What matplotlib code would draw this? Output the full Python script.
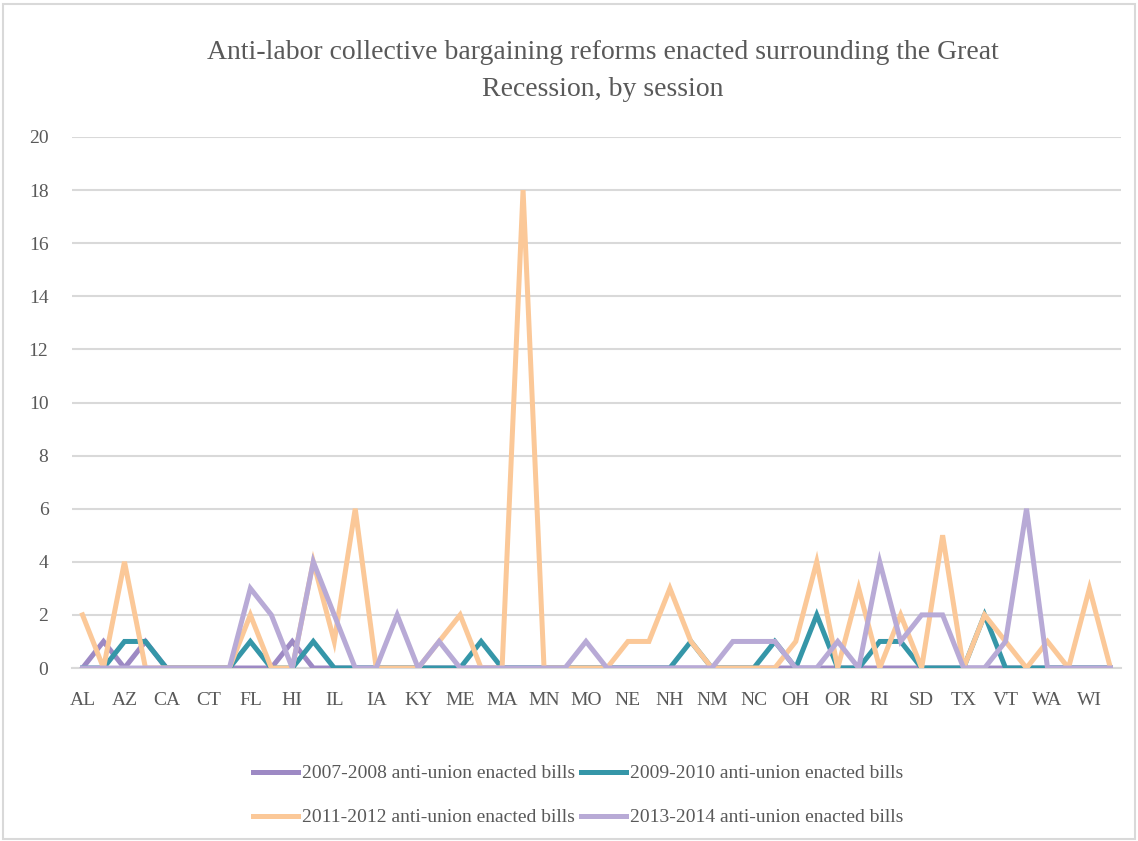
import numpy as np
import matplotlib.pyplot as plt
from matplotlib.patches import Rectangle

plt.rcParams['font.family'] = ['Liberation Serif', 'DejaVu Serif']

states = ['AL', 'AK', 'AZ', 'AR', 'CA', 'CO', 'CT', 'DE', 'FL', 'GA',
          'HI', 'ID', 'IL', 'IN', 'IA', 'KS', 'KY', 'LA', 'ME', 'MD',
          'MA', 'MI', 'MN', 'MS', 'MO', 'MT', 'NE', 'NV', 'NH', 'NJ',
          'NM', 'NY', 'NC', 'ND', 'OH', 'OK', 'OR', 'PA', 'RI', 'SC',
          'SD', 'TN', 'TX', 'UT', 'VT', 'VA', 'WA', 'WV', 'WI', 'WY']

bills_0708 = [0, 1, 0, 1, 0, 0, 0, 0, 0, 0,
              1, 0, 0, 0, 0, 0, 0, 0, 0, 0,
              0, 0, 0, 0, 0, 0, 0, 0, 0, 0,
              0, 0, 0, 0, 0, 0, 0, 0, 0, 0,
              0, 0, 0, 0, 0, 0, 0, 0, 0, 0]
bills_0910 = [0, 0, 1, 1, 0, 0, 0, 0, 1, 0,
              0, 1, 0, 0, 0, 0, 0, 0, 0, 1,
              0, 0, 0, 0, 0, 0, 0, 0, 0, 1,
              0, 0, 0, 1, 0, 2, 0, 0, 1, 1,
              0, 0, 0, 2, 0, 0, 0, 0, 0, 0]
bills_1112 = [2, 0, 4, 0, 0, 0, 0, 0, 2, 0,
              0, 4, 1, 6, 0, 0, 0, 1, 2, 0,
              0, 18, 0, 0, 0, 0, 1, 1, 3, 1,
              0, 0, 0, 0, 1, 4, 0, 3, 0, 2,
              0, 5, 0, 2, 1, 0, 1, 0, 3, 0]
bills_1314 = [0, 0, 0, 0, 0, 0, 0, 0, 3, 2,
              0, 4, 2, 0, 0, 2, 0, 1, 0, 0,
              0, 0, 0, 0, 1, 0, 0, 0, 0, 0,
              0, 1, 1, 1, 0, 0, 1, 0, 4, 1,
              2, 2, 0, 0, 1, 6, 0, 0, 0, 0]

series = [
    ('2007-2008 anti-union enacted bills', bills_0708, '#9d89c4'),
    ('2009-2010 anti-union enacted bills', bills_0910, '#3596a8'),
    ('2011-2012 anti-union enacted bills', bills_1112, '#fbc898'),
    ('2013-2014 anti-union enacted bills', bills_1314, '#b8aad6'),
]

txt = '#595959'
fig = plt.figure(figsize=(11.38, 8.41), dpi=100)
ax = fig.add_axes([0.0633, 0.2057, 0.9217, 0.6314])

x = np.arange(len(states))
lines = []
for name, vals, col in series:
    ln, = ax.plot(x, vals, '-', color=col, lw=3.6, label=name,
                  solid_joinstyle='miter', zorder=3)
    lines.append(ln)

ax.set_xlim(-0.5, len(states) - 0.5)
ax.set_ylim(0, 20)
ax.set_yticks(range(0, 21, 2))
ax.set_xticks(x[::2])
ax.set_xticklabels(states[::2])
ax.yaxis.grid(True, color='#d9d9d9', lw=1.5)
ax.set_axisbelow(True)
for s in ['top', 'right', 'left']:
    ax.spines[s].set_visible(False)
ax.spines['bottom'].set_color('#d9d9d9')
ax.spines['bottom'].set_linewidth(1.5)
ax.tick_params(length=0, labelsize=14, colors=txt)
ax.tick_params(axis='x', pad=17)
ax.tick_params(axis='y', pad=17)

fig.text(0.53, 0.938, 'Anti-labor collective bargaining reforms enacted surrounding the Great',
         ha='center', va='center', fontsize=20, color=txt)
fig.text(0.53, 0.893, 'Recession, by session',
         ha='center', va='center', fontsize=20, color=txt)

# legend fills by column, so reorder to read across rows
order = [0, 2, 1, 3]
fig.legend([lines[i] for i in order], [series[i][0] for i in order],
           loc='center', bbox_to_anchor=(0.508, 0.054), ncol=2, frameon=False,
           fontsize=14, labelcolor=txt, handlelength=2.3, handletextpad=0.2,
           columnspacing=0.3, labelspacing=1.35)

fig.add_artist(Rectangle((0.003, 0.002), 0.994, 0.993, transform=fig.transFigure,
                         fill=False, edgecolor='#d9d9d9', lw=1.5))

fig.savefig('out.png', dpi=100)
